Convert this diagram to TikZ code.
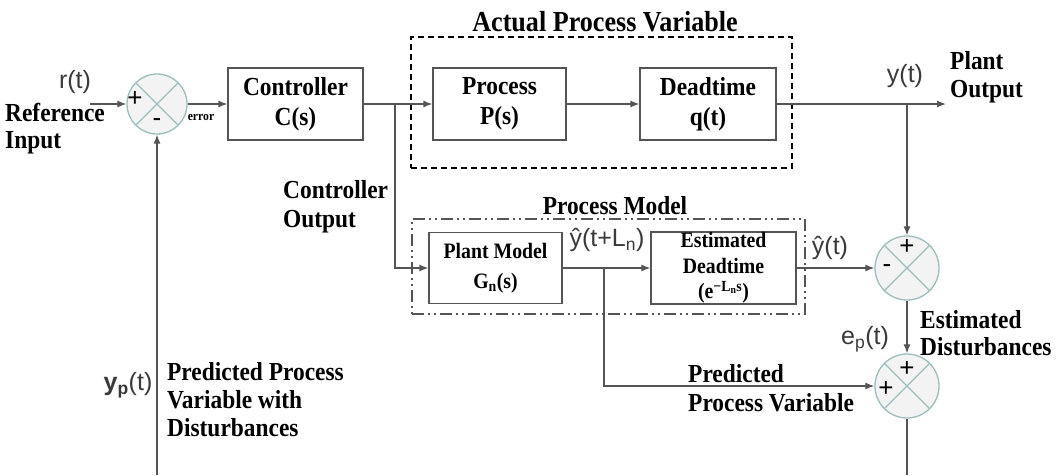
\documentclass[tikz,border=0pt]{standalone}
\usepackage{fontspec}
\setmainfont[FakeStretch=0.9]{Liberation Serif}
\newfontfamily\labfont{Liberation Sans}
\usetikzlibrary{arrows.meta,calc}
\definecolor{ln}{HTML}{555555}
\definecolor{sumfill}{HTML}{F3F3F3}
\definecolor{sumdraw}{HTML}{9DBDBD}
\definecolor{lab}{HTML}{3A3A3A}
\tikzset{
  conn/.style={draw=ln,line width=1.2pt},
  arr/.style={conn,-{Latex[length=9pt,width=7pt]}},
  blk/.style={draw=ln,line width=1.2pt,inner sep=0pt,align=center,
    font=\bfseries\fontsize{26}{30}\selectfont},
  mblk/.style={draw=ln,line width=1.2pt,inner sep=0pt,align=center,
    font=\bfseries\fontsize{22}{25.5}\selectfont},
  sumc/.style={circle,draw=sumdraw,fill=sumfill,line width=1.3pt,inner sep=0pt,
    path picture={\draw[sumdraw,line width=1.3pt]
      (path picture bounding box.north west) -- (path picture bounding box.south east)
      (path picture bounding box.north east) -- (path picture bounding box.south west);}},
  txt/.style={inner sep=0pt,text=black,font=\bfseries\fontsize{26}{28}\selectfont},
  ttl/.style={inner sep=0pt,text=black,font=\bfseries\fontsize{29}{30}\selectfont},
  lbl/.style={inner sep=0pt,text=lab,font=\labfont\fontsize{25}{26}\selectfont},
  sgn/.style={inner sep=0pt,text=black,font=\labfont\fontsize{26}{26}\selectfont},
  tiny/.style={inner sep=0pt,text=black,font=\bfseries\fontsize{13}{13}\selectfont},
}
\begin{document}
\begin{tikzpicture}[x=1pt,y=-1pt]
\useasboundingbox (0,0) rectangle (1060,475);

% frames
\node[draw=black,line width=1.5pt,dash pattern=on 6pt off 4pt,minimum width=381pt,minimum height=131pt,inner sep=0pt] (apv) at (601.5,102.5) {};
\node[draw=ln,line width=1.6pt,dash pattern=on 12pt off 4pt on 2pt off 4pt on 2pt off 4pt,minimum width=393pt,minimum height=95pt,inner sep=0pt] (pmf) at (608.5,266.5) {};
\node[ttl] (apvt) at (605,22) {Actual Process Variable};
\node[txt] (pmt) at (615,206) {Process Model};

% sums
\node[sumc,minimum size=60pt] (s1) at (157,104) {};
\node[sumc,minimum size=64pt] (s2) at (907,268) {};
\node[sumc,minimum size=64pt] (s3) at (907,386) {};
\node[sgn] (s1p) at (135,99) {+};
\node[sgn] (s1m) at (157,123) {-};
\node[sgn] (s2p) at (907,247) {+};
\node[sgn] (s2m) at (887,269) {-};
\node[sgn] (s3p) at (907,369) {+};
\node[sgn] (s3q) at (886,389) {+};

% blocks
\node[blk,minimum width=135pt,minimum height=72pt] (ctrl) at (295.5,104) {Controller\\C(s)};
\node[blk,minimum width=133pt,minimum height=72pt] (proc) at (499.5,104) {Process\\P(s)};
\node[blk,minimum width=136pt,minimum height=72pt] (dead) at (708,104) {Deadtime\\q(t)};
\node[mblk,minimum width=133pt,minimum height=71pt,font=\bfseries\fontsize{22}{30}\selectfont] (pm) at (495.5,268) {Plant Model\\G\textsubscript{n}(s)};
\node[mblk,minimum width=145pt,minimum height=72pt] (ed) at (723.5,268) {Estimated\\Deadtime\\(e\textsuperscript{−L\textsubscript{n}s})};

% coordinates
\coordinate (rin) at (90,104);
\coordinate (j1) at (395,104);
\coordinate (j2) at (907,104);
\coordinate (yout) at (946,104);
\coordinate (j3) at (604,268);
\coordinate (bot3) at (907,475);
\coordinate (bot1) at (157,475);

% connectors
\draw[arr] (rin) -- (s1.west);
\draw[arr] (s1.east) -- (ctrl.west);
\draw[arr] (ctrl.east) -- (proc.west);
\draw[arr] (proc.east) -- (dead.west);
\draw[arr] (dead.east) -- (yout);
\draw[arr] (j2) -- (s2.north);
\draw[arr] (j1) |- (pm.west);
\draw[arr] (pm.east) -- (ed.west);
\draw[arr] (j3) |- (s3.west);
\draw[arr] (ed.east) -- (s2.west);
\draw[arr] (s2.south) -- (s3.north);
\draw[conn] (s3.south) -- (bot3);
\draw[arr] (bot1) -- (s1.south);

% labels
\node[lbl] (rt) at (75,82) {r(t)};
\node[txt,align=left,anchor=west,font=\bfseries\fontsize{26}{27}\selectfont] (refin) at (5,129) {Reference\\Input};
\node[tiny] (err) at (201,117) {error};
\node[lbl] (yt) at (905,76) {y(t)};
\node[txt,align=left,anchor=west] (pout) at (950,77) {Plant\\Output};
\node[txt,align=left,anchor=west,font=\bfseries\fontsize{26}{29}\selectfont] (cout) at (283,207) {Controller\\Output};
\node[lbl] (yhl) at (607,240) {ŷ(t+L\textsubscript{n})};
\node[lbl] (yht) at (830,248) {ŷ(t)};
\node[lbl] (ept) at (865,339) {e\textsubscript{p}(t)};
\node[txt,align=left,anchor=west,font=\bfseries\fontsize{26}{27}\selectfont] (edist) at (920,333) {Estimated\\Disturbances};
\node[txt,align=left,anchor=west,font=\bfseries\fontsize{26}{29}\selectfont] (ppv) at (688,388) {Predicted\\Process Variable};
\node[lbl] (ypt) at (128,385) {\textbf{y\textsubscript{p}}(t)};
\node[txt,align=left,anchor=west] (ppvd) at (167,400) {Predicted Process\\Variable with\\Disturbances};
\end{tikzpicture}
\end{document}
